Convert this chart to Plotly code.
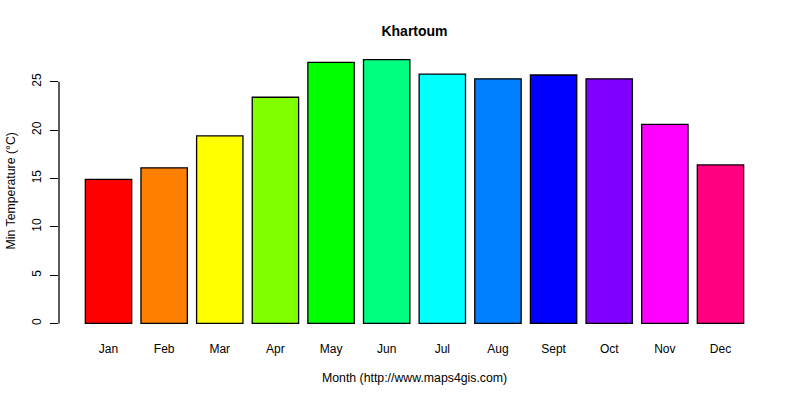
#!/usr/bin/env python3

import plotly.graph_objects as go

# Monthly mean minimum temperature, Khartoum
months = ["Jan", "Feb", "Mar", "Apr", "May", "Jun",
          "Jul", "Aug", "Sept", "Oct", "Nov", "Dec"]
min_temp = [14.9, 16.1, 19.4, 23.4, 27.0, 27.3,
            25.8, 25.3, 25.7, 25.3, 20.6, 16.4]
bar_colors = ["#FF0000", "#FF8000", "#FFFF00", "#80FF00", "#00FF00", "#00FF80",
              "#00FFFF", "#0080FF", "#0000FF", "#8000FF", "#FF00FF", "#FF0080"]
y_ticks = [0, 5, 10, 15, 20, 25]

font = "Liberation Sans, Arial, sans-serif"

fig = go.Figure(go.Bar(
    x=months,
    y=min_temp,
    marker=dict(color=bar_colors, line=dict(color="black", width=1.3)),
    width=1 / 1.2,
    hoverinfo="x+y",
))

# R-style y axis line running only from first to last tick
fig.add_shape(type="line", xref="paper", yref="y",
              x0=0, x1=0, y0=y_ticks[0], y1=y_ticks[-1],
              line=dict(color="black", width=1.3))

# axis titles placed like R's mtext
fig.add_annotation(text="Month (http://www.maps4gis.com)",
                   xref="paper", yref="paper", x=0.5, y=0, yshift=-44,
                   yanchor="middle", showarrow=False, font=dict(size=12.3))
fig.add_annotation(text="Min Temperature (°C)", textangle=-90,
                   xref="paper", yref="paper", x=0, xshift=-49, y=0.5,
                   xanchor="center", showarrow=False, font=dict(size=12.3))

fig.update_layout(
    width=800, height=400,
    margin=dict(l=59, r=30, t=49, b=66),
    paper_bgcolor="white",
    plot_bgcolor="white",
    showlegend=False,
    font=dict(family=font, size=12, color="black"),
    title=dict(text="<b>Khartoum</b>", x=414.5 / 800, xanchor="center",
               y=1 - 31 / 400, yanchor="middle",
               font=dict(family=font, size=14, color="black")),
)

fig.update_xaxes(
    range=[-0.89, 11.89],
    automargin=False,
    showline=False, showgrid=False, zeroline=False,
    ticks="", ticklabelstandoff=6,
)

fig.update_yaxes(
    range=[-1.092, 28.39],
    automargin=False,
    tickvals=y_ticks,
    showline=False, showgrid=False, zeroline=False,
    ticks="outside", ticklen=8, tickwidth=1.3, tickcolor="black",
    tickangle=-90, ticklabelstandoff=4,
)

# drop the browser's default 8px body margin so the figure sits at 0,0
fig.write_html("out.html", config={"displayModeBar": False},
               post_script="document.body.style.margin = '0';")
